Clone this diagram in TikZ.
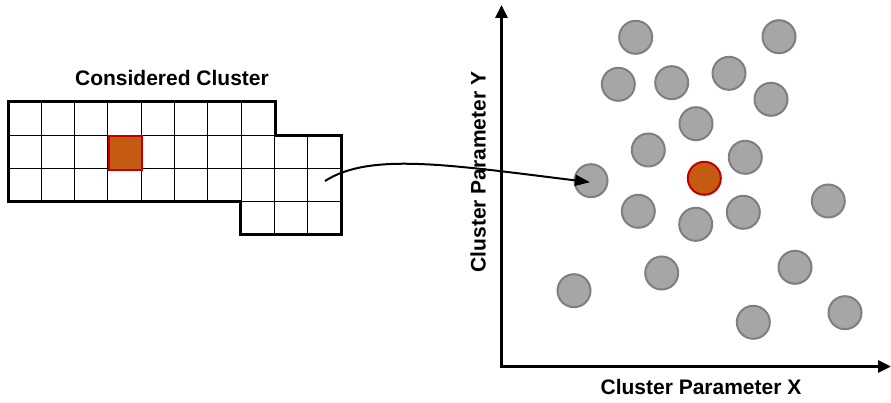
\documentclass[tikz,border=0pt]{standalone}
\usepackage{fontspec}
\setmainfont{Liberation Sans}
\usetikzlibrary{arrows.meta}
\definecolor{dotfill}{HTML}{A6A6A6}
\definecolor{dotline}{HTML}{7F7F7F}
\definecolor{hotfill}{HTML}{C55A11}
\definecolor{hotline}{HTML}{C00000}
\tikzset{
  dot/.style={circle,draw=dotline,fill=dotfill,line width=2pt,minimum size=33pt,inner sep=0pt},
  hotdot/.style={circle,draw=hotline,fill=hotfill,line width=2pt,minimum size=33pt,inner sep=0pt},
  lbl/.style={font=\fontsize{21}{24}\selectfont\bfseries,inner sep=0pt},
  axis/.style={line width=3pt,-{Triangle[length=13pt,width=12pt]}},
  gridline/.style={line width=1pt},
  outline/.style={line width=3pt,line join=miter},
}
\begin{document}
\begin{tikzpicture}[x=1pt,y=-1pt]
\useasboundingbox (0,0) rectangle (891,403);
% grid cells
\begin{scope}
\clip (8,102) -- (275,102) -- (275,135.3) -- (341,135.3) -- (341,235) -- (240,235) -- (240,202) -- (8,202) -- cycle;
\foreach \i in {1,...,9} \draw[gridline] ({8+33.3*\i},90) -- ({8+33.3*\i},240);
\foreach \j in {1,2,3} \draw[gridline] (0,{102+33.3*\j}) -- (350,{102+33.3*\j});
\end{scope}
\node[draw=hotline,fill=hotfill,line width=2pt,minimum size=33.3pt,inner sep=0pt,anchor=north west] (hot) at (108,135.3) {};
\draw[outline] (8,102) -- (275,102) -- (275,135.3) -- (341,135.3) -- (341,235) -- (240,235) -- (240,202) -- (8,202) -- cycle;
\node[lbl] (title) at (172,78) {Considered Cluster};
% axes
\coordinate (origin) at (501.5,366.5);
\coordinate (ytip) at (501.5,5);
\coordinate (xtip) at (891,366.5);
\draw[axis] (origin) -- (ytip);
\draw[axis] ([xshift=-1.5pt]origin) -- (xtip);
\node[lbl] (xlab) at (701,387) {Cluster Parameter X};
\node[lbl,rotate=90] (ylab) at (478,172) {Cluster Parameter Y};
% dots
\node[dot] (c1) at (635.7,37.3) {};
\node[dot] (c2) at (779,36.7) {};
\node[dot] (c3) at (618.3,84.3) {};
\node[dot] (c4) at (671.7,82.7) {};
\node[dot] (c5) at (729,73.3) {};
\node[dot] (c6) at (771,99.3) {};
\node[dot] (c7) at (696,123.7) {};
\node[dot] (c8) at (648.3,150) {};
\node[dot] (c9) at (745.3,157.3) {};
\node[hotdot] (c10) at (704.3,178.3) {};
\node[dot] (c11) at (591,180.7) {};
\node[dot] (c12) at (828.3,201) {};
\node[dot] (c13) at (638.3,211.3) {};
\node[dot] (c14) at (695.7,224.3) {};
\node[dot] (c15) at (743.3,212.3) {};
\node[dot] (c16) at (661.7,273) {};
\node[dot] (c17) at (795,267.3) {};
\node[dot] (c18) at (574,290.7) {};
\node[dot] (c19) at (753.3,322.3) {};
\node[dot] (c20) at (845,312.7) {};
% mapping arrow
\coordinate (src) at (325,181);
\coordinate (dst) at ([xshift=-1pt,yshift=-1.5pt]c11.center);
\draw[line width=2pt,-{Triangle[length=15pt,width=11pt]}] (src) .. controls (370,152) and (450,165) .. (dst);
\end{tikzpicture}
\end{document}
